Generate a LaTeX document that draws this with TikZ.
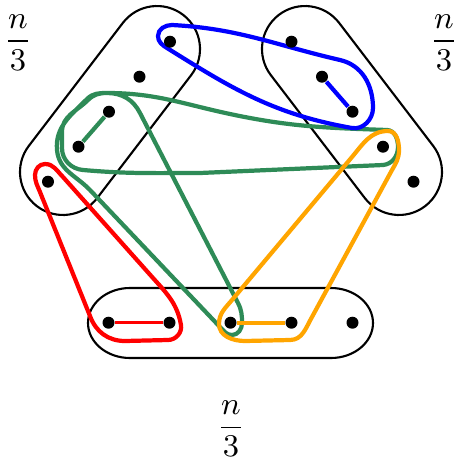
\documentclass[tikz,border=0pt]{standalone}
\usepackage{amsmath}
\usepackage{xcolor}
\usepackage{tikz}
\usetikzlibrary{positioning,backgrounds}

\definecolor{seagreen}{RGB}{46,139,87}
\definecolor{amber}{RGB}{255,165,0}

\begin{document}
\begin{tikzpicture}[
  x=0.1mm, y=-0.1mm,
  vtx/.style={circle, fill=black, inner sep=0pt, minimum size=1.2mm},
  part/.style={draw=black, semithick},
  hedge/.style={very thick, line join=round},
  lbl/.style={inner sep=0pt, font=\small},
]
\useasboundingbox (0,0) rectangle (456,461);

% ====== vertices: left side ======
\node[vtx] (l1) at (170,41.7) {};
\node[vtx] (l2) at (139.5,76.7) {};
\node[vtx] (l3) at (109,111.7) {};
\node[vtx] (l4) at (78.5,146.7) {};
\node[vtx] (l5) at (48,181.7) {};

% ====== vertices: right side ======
\node[vtx] (r1) at (291.5,41.7) {};
\node[vtx] (r2) at (322,76.7) {};
\node[vtx] (r3) at (352.5,111.7) {};
\node[vtx] (r4) at (383,146.7) {};
\node[vtx] (r5) at (413.5,181.7) {};

% ====== vertices: bottom ======
\node[vtx] (b1) at (108.5,322.7) {};
\node[vtx] (b2) at (169.5,322.7) {};
\node[vtx] (b3) at (230.5,322.7) {};
\node[vtx] (b4) at (291.5,322.7) {};
\node[vtx] (b5) at (352.5,322.7) {};

% part sizes
\node[lbl] (nl) at (18,42.5) {$\dfrac{n}{3}$};
\node[lbl] (nr) at (444,42.5) {$\dfrac{n}{3}$};
\node[lbl] (nb) at (231,429) {$\dfrac{n}{3}$};

\begin{scope}[on background layer]
% ====== the three parts ======
\begin{scope}[shift={(110,110.5)}, rotate=52.6]
  \draw[part, rounded corners=4.3mm] (-120.4,-43) rectangle (120.4,43);
\end{scope}
\begin{scope}[shift={(352,110.5)}, rotate=-52.6]
  \draw[part, rounded corners=4.3mm] (-120.4,-43) rectangle (120.4,43);
\end{scope}
\draw[part] (130,288) -- (331,288)
  .. controls (354.2,288) and (373,303.7) .. (373,323)
  .. controls (373,342.3) and (354.2,358) .. (331,358) -- (130,358)
  .. controls (106.8,358) and (88,342.3) .. (88,323)
  .. controls (88,303.7) and (106.8,288) .. (130,288) -- cycle;

% ====== hyperedges ======
% green: band to r4, then loop down to b3
\draw[hedge, seagreen] (107,93) to[out=0,in=168] (230,114)
  to[out=-12,in=178] (387,130) to[out=-2,in=90] (398,147)
  to[out=-90,in=5] (383,165) -- (200,173) to[out=180,in=-5] (83,170)
  to[out=175,in=-90] (62,148) -- (62,132) to[out=90,in=225] (88,100)
  to[out=45,in=180] (107,93)
  to[out=0,in=117] (140,113) -- (238,303) to[out=-63,in=90] (242,323)
  to[out=-90,in=0] (232,335) to[out=180,in=-46] (220,327)
  -- (90,190) to[out=134,in=-85] (57,150) to[out=95,in=225] (87,99)
  to[out=45,in=180] (107,93);
% blue
\draw[hedge, blue] (172,25) to[out=-3,in=167] (340,60)
  to[out=-13,in=90] (373,108) to[out=-90,in=-10] (352,128)
  to[out=170,in=-32] (167,48) to[out=148,in=-90] (158,36)
  to[out=90,in=180] (172,25) -- cycle;
% red
\draw[hedge, red] (45,164) to[out=0,in=135] (63,177) -- (153,278)
  to[out=-48,in=100] (181,325) to[out=-80,in=0] (168,340)
  -- (125,341) to[out=180,in=-70] (90,316) -- (40,192)
  to[out=112,in=-90] (35,175) to[out=90,in=180] (45,164) -- cycle;
% orange
\draw[hedge, amber] (388,131) to[out=0,in=90] (399,150)
  to[out=-90,in=60] (392,170) -- (312,317) to[out=-120,in=0] (290,340)
  -- (245,341) to[out=180,in=-90] (219,324) to[out=90,in=230] (232,300)
  -- (352,157) to[out=50,in=180] (388,131) -- cycle;
\end{scope}

% pairs inside the hyperedges
\draw[hedge, blue] (r2) -- (r3);
\draw[hedge, seagreen] (l3) -- (l4);
\draw[thick, red] (b1) -- (b2);
\draw[hedge, amber] (b3) -- (b4);

\end{tikzpicture}
\end{document}
